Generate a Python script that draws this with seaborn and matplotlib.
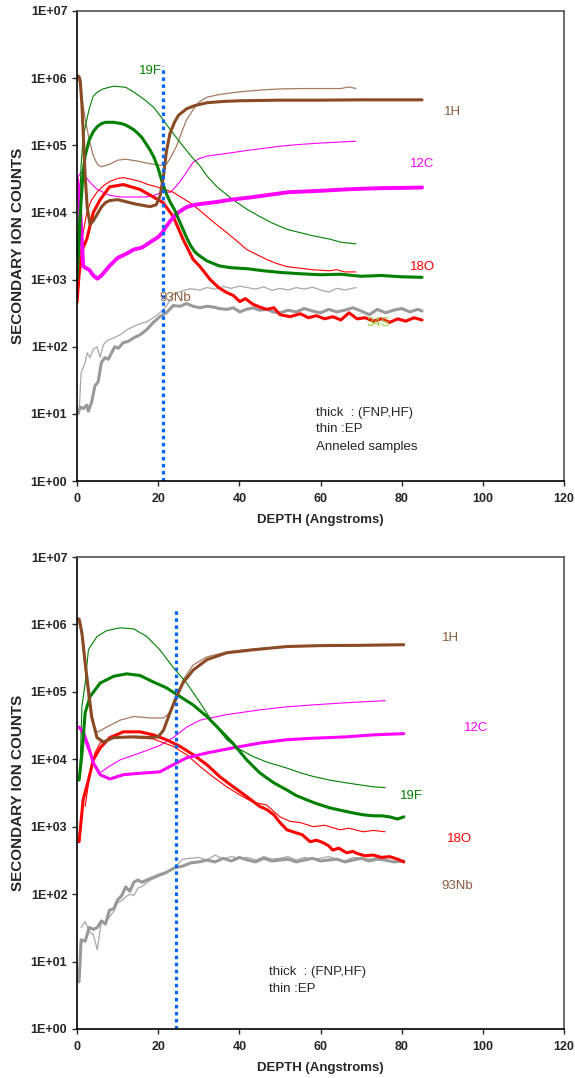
import numpy as np
import pandas as pd
import matplotlib
matplotlib.use("Agg")
import matplotlib.pyplot as plt
from matplotlib.ticker import NullLocator
import seaborn as sns

# ---------------- top panel : annealed samples ----------------
h1_thick_x = [0, 0.5, 0.8, 1.2, 1.6, 2, 2.5, 3.2, 4, 5, 6, 7, 8, 10, 12, 14, 16, 18, 19.5, 20.5, 21.3, 22, 22.9, 24, 25, 27, 29, 32, 36, 40, 50, 60, 70, 85]
h1_thick_y = [1.1e6, 1.05e6, 9e5, 4e5, 1.2e5, 3.5e4, 1.2e4, 6.6e3, 7.5e3, 9.5e3, 1.2e4, 1.4e4, 1.5e4, 1.55e4, 1.45e4, 1.35e4, 1.28e4, 1.22e4, 1.3e4, 1.8e4, 3.5e4, 8e4, 1.5e5, 2.2e5, 2.8e5, 3.5e5, 3.9e5, 4.3e5, 4.5e5, 4.6e5, 4.7e5, 4.7e5, 4.75e5, 4.75e5]
h1_thin_x = [0, 0.5, 1, 2, 3, 4, 5, 6, 8, 10, 12, 15, 18, 20, 21, 22, 23, 24.5, 26, 27, 28.6, 30, 32, 35, 38.5, 42, 46, 50, 55, 60, 65, 67, 68.7]
h1_thin_y = [1.1e6, 9e5, 6e5, 2.5e5, 1.2e5, 7e4, 5.2e4, 4.8e4, 5.2e4, 6e4, 6.2e4, 5.8e4, 5.3e4, 5.1e4, 5.0e4, 5.2e4, 6.5e4, 9.7e4, 1.7e5, 2.4e5, 3.4e5, 4.4e5, 5.2e5, 5.7e5, 6.1e5, 6.4e5, 6.7e5, 6.9e5, 7.0e5, 7.0e5, 7.0e5, 7.4e5, 7.0e5]

f19_thick_x = [0, 0.5, 1, 1.5, 2, 3, 4, 5, 6, 7, 8, 9, 10, 11, 12, 13, 14, 15, 16, 17, 18, 19, 20, 21, 22, 23, 24, 25, 26, 27, 28, 29, 30, 32, 35, 38, 42, 46, 50, 55, 60, 65, 70, 75, 80, 85]
f19_thick_y = [1e3, 4e3, 1.5e4, 4e4, 7e4, 1.2e5, 1.6e5, 1.9e5, 2.1e5, 2.2e5, 2.2e5, 2.2e5, 2.15e5, 2.1e5, 2e5, 1.85e5, 1.7e5, 1.5e5, 1.3e5, 1.05e5, 8.5e4, 6.5e4, 4.5e4, 2.8e4, 1.9e4, 1.4e4, 1.1e4, 8e3, 5.8e3, 4.2e3, 3.2e3, 2.6e3, 2.3e3, 1.9e3, 1.6e3, 1.5e3, 1.45e3, 1.35e3, 1.28e3, 1.22e3, 1.18e3, 1.2e3, 1.12e3, 1.15e3, 1.1e3, 1.08e3]
f19_thin_x = [0, 0.5, 1, 1.5, 2.4, 3, 4, 5, 6.4, 9, 12, 14, 17, 19, 21, 23, 25.4, 28, 30.3, 32, 34.5, 38.4, 42, 45, 48, 51.7, 55, 58, 62.3, 65, 68.7]
f19_thin_y = [2e3, 1e4, 5e4, 1.3e5, 2.4e5, 3.5e5, 5.4e5, 6.2e5, 6.9e5, 7.6e5, 7.3e5, 6.2e5, 4.6e5, 3.6e5, 2.5e5, 1.7e5, 1.1e5, 7e4, 4.9e4, 3.5e4, 2.4e4, 1.55e4, 1.1e4, 8.7e3, 7e3, 5.6e3, 5e3, 4.5e3, 4e3, 3.6e3, 3.4e3]

c12_thick_x = [0, 0.5, 1, 1.5, 2, 3, 4, 5, 6, 7, 8, 10, 12, 14, 16, 18, 20, 21, 22, 23, 24, 25, 26, 27, 29, 31, 34, 38, 43, 48, 52, 56, 60, 66, 70, 75, 80, 85]
c12_thick_y = [3.1e4, 2e4, 6e3, 1.6e3, 1.5e3, 1.4e3, 1.15e3, 1.03e3, 1.15e3, 1.35e3, 1.6e3, 2.1e3, 2.4e3, 2.8e3, 3e3, 3.6e3, 4.3e3, 5e3, 6.2e3, 7.5e3, 8.8e3, 1e4, 1.1e4, 1.2e4, 1.3e4, 1.35e4, 1.42e4, 1.55e4, 1.68e4, 1.85e4, 2e4, 2.05e4, 2.1e4, 2.2e4, 2.25e4, 2.3e4, 2.32e4, 2.35e4]
c12_thin_x = [0, 1, 2, 3, 4, 5, 6.4, 8, 10.6, 13, 15, 17, 19, 21, 23, 24, 25.4, 27, 28.6, 30, 32, 35, 38.4, 42, 46, 50, 55, 60, 65, 68.7]
c12_thin_y = [3.2e4, 4e4, 3.5e4, 2.9e4, 2.5e4, 2.2e4, 2e4, 1.8e4, 1.7e4, 1.7e4, 1.7e4, 1.7e4, 1.8e4, 2e4, 2e4, 2.3e4, 2.9e4, 4e4, 5.6e4, 6.3e4, 6.9e4, 7.3e4, 7.8e4, 8.4e4, 9e4, 9.7e4, 1.03e5, 1.08e5, 1.12e5, 1.15e5]

o18_thick_x = [0, 0.5, 1, 1.5, 2.4, 4, 5.7, 8, 11.4, 15.5, 18.8, 21.2, 23.7, 26.1, 28.6, 30.3, 32.8, 35, 36.9, 38.5, 40.1, 41.5, 43.3, 45, 46.7, 48.5, 50, 52.5, 55, 57, 59, 61, 63, 65, 67, 69, 71, 73, 75, 77, 79, 81, 83, 85]
o18_thick_y = [4.6e2, 1.2e3, 2e3, 3e3, 4e3, 1e4, 1.55e4, 2.4e4, 2.6e4, 2.2e4, 1.7e4, 1.4e4, 8.7e3, 4e3, 2e3, 1.56e3, 1e3, 7.5e2, 6.4e2, 5.8e2, 4.7e2, 5.2e2, 4.3e2, 3.9e2, 3.6e2, 3.8e2, 3e2, 2.8e2, 3.1e2, 2.7e2, 2.9e2, 2.6e2, 2.8e2, 2.5e2, 3.2e2, 2.6e2, 2.7e2, 2.4e2, 2.6e2, 2.3e2, 2.6e2, 2.4e2, 2.7e2, 2.5e2]
o18_thin_x = [0, 0.5, 1, 1.5, 2.4, 3.5, 4.9, 6.5, 8.1, 10, 11.4, 13.5, 15.5, 17.5, 19.7, 21.5, 23.7, 25.5, 27.8, 30, 32, 34.5, 36.9, 39.5, 41.8, 44, 46.7, 49, 51.7, 54, 56, 58, 60, 62, 64, 66, 68.7]
o18_thin_y = [1.5e3, 2e3, 3e3, 5e3, 1e4, 1.5e4, 2e4, 2.5e4, 2.9e4, 3.2e4, 3.3e4, 3.1e4, 2.9e4, 2.6e4, 2.4e4, 2.2e4, 2e4, 1.7e4, 1.4e4, 1.1e4, 8.7e3, 6.5e3, 5e3, 3.7e3, 2.8e3, 2.4e3, 2e3, 1.75e3, 1.56e3, 1.5e3, 1.45e3, 1.4e3, 1.38e3, 1.35e3, 1.4e3, 1.3e3, 1.3e3]

nb93_thick_x = [0.2, 0.8, 1.6, 2.4, 2.8, 3.6, 4.4, 5.2, 6, 6.9, 7.7, 8.5, 9.3, 10.2, 11.4, 12.6, 13.9, 15.5, 17.1, 18.8, 20.4, 22, 23.7, 25.4, 27, 28.6, 30.3, 32, 33.6, 35, 36.9, 38.5, 40.1, 41.7, 43.4, 45, 46.7, 48.3, 50, 52, 54, 56, 58, 60, 62, 64, 66, 68, 70, 72, 74, 76, 78, 80, 82, 84, 85]
nb93_thick_y = [10, 12.6, 12, 13.5, 11, 15, 26, 30, 58, 69, 65, 81, 100, 95, 115, 120, 135, 150, 178, 230, 280, 320, 410, 400, 440, 400, 380, 400, 390, 370, 360, 380, 330, 360, 380, 350, 360, 330, 320, 350, 330, 370, 340, 320, 360, 330, 350, 380, 340, 300, 360, 320, 350, 370, 330, 360, 340]
nb93_thin_x = [0.5, 1, 2, 2.5, 3.2, 4, 4.9, 5.7, 6.5, 7.3, 9, 10.6, 12.2, 13.9, 15.5, 17.1, 18.8, 20.4, 22, 23.7, 25.4, 27.8, 30.3, 32, 34, 36, 38, 40, 42, 44, 46, 48, 50, 52, 54, 56, 58, 60, 62, 64, 66, 68.7]
nb93_thin_y = [10, 41, 58, 81, 69, 91, 100, 70, 107, 122, 135, 150, 178, 200, 220, 234, 270, 320, 400, 600, 660, 730, 700, 760, 720, 790, 740, 800, 760, 720, 780, 690, 740, 700, 760, 720, 770, 700, 650, 740, 700, 760]

# ---------------- bottom panel ----------------
h1b_thick_x = [0, 0.5, 1.2, 2, 2.8, 3.6, 4.9, 6.5, 9, 13.9, 18, 20, 21.3, 22.9, 24.5, 26.1, 28.6, 32, 36.9, 43.3, 51.7, 60, 70, 80.5]
h1b_thick_y = [1.2e6, 1.2e6, 7.5e5, 2.7e5, 1.07e5, 4.3e4, 2.1e4, 1.8e4, 2.1e4, 2.15e4, 2.1e4, 2.15e4, 2.7e4, 4.9e4, 8.5e4, 1.36e5, 2.1e5, 3e5, 3.8e5, 4.2e5, 4.7e5, 4.85e5, 4.9e5, 5e5]
h1b_thin_x = [0, 0.5, 1.2, 2, 2.8, 3.6, 4.9, 7.3, 10.6, 13.9, 18, 21.3, 22.9, 24.5, 26.1, 28.6, 32, 36.9, 43.3, 51.7, 60, 68, 76]
h1b_thin_y = [1.2e6, 1.1e6, 6.5e5, 2.2e5, 8e4, 3.8e4, 2.5e4, 3e4, 3.8e4, 4.3e4, 4.1e4, 4.1e4, 4.9e4, 7.6e4, 1.5e5, 2.5e5, 3.3e5, 3.9e5, 4.3e5, 4.7e5, 4.8e5, 4.9e5, 4.9e5]

f19b_thick_x = [0.5, 1.2, 2, 3.2, 5.7, 9, 12.2, 15.5, 18.8, 22, 25.4, 28.6, 32, 35.3, 38.5, 41.8, 45, 48.4, 51.7, 54, 56.6, 59, 62.3, 65, 68, 70.5, 73, 75, 77, 79, 80.5]
f19b_thick_y = [4.9e3, 1.2e4, 4.9e4, 8.5e4, 1.35e5, 1.7e5, 1.85e5, 1.75e5, 1.4e5, 1.15e5, 8.5e4, 6.4e4, 4.3e4, 2.7e4, 1.7e4, 9.8e3, 6.3e3, 4.5e3, 3.5e3, 2.9e3, 2.5e3, 2.2e3, 1.9e3, 1.75e3, 1.6e3, 1.5e3, 1.45e3, 1.45e3, 1.4e3, 1.3e3, 1.4e3]
f19b_thin_x = [0.7, 1.2, 2, 2.8, 4.9, 7.3, 10.6, 13.9, 17.2, 20.4, 23.7, 27, 30.3, 33.5, 36.9, 40.1, 43.4, 46.7, 51.7, 55, 58, 62.3, 66, 70.5, 73, 75.9]
f19b_thin_y = [6e3, 6e4, 1.35e5, 4.2e5, 6.6e5, 8.1e5, 8.9e5, 8.6e5, 6.6e5, 4.2e5, 2.3e5, 1.35e5, 6.9e4, 3.5e4, 1.95e4, 1.4e4, 1.1e4, 9.1e3, 7.4e3, 6.3e3, 5.6e3, 4.9e3, 4.5e3, 4.1e3, 3.9e3, 3.8e3]

c12b_thick_x = [0.5, 1.6, 2.8, 4, 5.7, 8.1, 11.4, 15.5, 20.4, 23.7, 27, 32, 38.5, 45, 51.7, 58, 66.4, 73, 80.5]
c12b_thick_y = [3e4, 2.5e4, 1.55e4, 8.9e3, 5.9e3, 5.1e3, 5.9e3, 6.2e3, 6.5e3, 8.3e3, 1.05e4, 1.24e4, 1.48e4, 1.74e4, 1.95e4, 2.05e4, 2.15e4, 2.3e4, 2.4e4]
c12b_thin_x = [0.5, 2.4, 4, 5.7, 7.3, 10.6, 15.5, 20.4, 23.7, 27, 30.3, 36.9, 45, 51.7, 58, 66.4, 75.9]
c12b_thin_y = [3e4, 1.55e4, 8.9e3, 6.3e3, 7.4e3, 9.8e3, 1.24e4, 1.6e4, 2.1e4, 3e4, 3.8e4, 4.6e4, 5.4e4, 6e4, 6.4e4, 6.9e4, 7.4e4]

o18b_thick_x = [0.5, 1.5, 2.8, 4, 5.7, 8.1, 11.4, 15.5, 18.8, 22, 25.4, 28.6, 32, 35.2, 38.5, 41.8, 45, 46.7, 48.5, 50, 51.7, 54, 55.5, 57.4, 59, 60.6, 62, 63, 64.5, 66.4, 68, 69, 71, 73, 75, 77, 79, 80.5]
o18b_thick_y = [6e2, 2.5e3, 4.9e3, 9.8e3, 1.48e4, 2.1e4, 2.55e4, 2.55e4, 2.3e4, 1.95e4, 1.55e4, 1.17e4, 8.3e3, 5.5e3, 3.9e3, 2.8e3, 2e3, 1.8e3, 1.5e3, 1.15e3, 9e2, 8.1e2, 7.6e2, 6e2, 6.3e2, 5.8e2, 5.2e2, 4.5e2, 4.8e2, 4.1e2, 4.3e2, 4e2, 3.7e2, 3.8e2, 3.5e2, 3.6e2, 3.3e2, 3e2]
o18b_thin_x = [2, 3.2, 4.4, 5.7, 9, 13.9, 18.8, 23.7, 27, 30.3, 33.5, 36.9, 40.1, 43.4, 46.7, 50, 52.5, 55, 58.2, 61, 64.8, 67, 70.5, 73, 75.9]
o18b_thin_y = [2e3, 6.3e3, 1.24e4, 1.75e4, 2.1e4, 2.1e4, 2e4, 1.55e4, 1.17e4, 7.8e3, 5.5e3, 3.9e3, 2.95e3, 2.3e3, 2.1e3, 1.4e3, 1.2e3, 1.15e3, 1e3, 1.05e3, 9e2, 9.5e2, 8.4e2, 8.8e2, 8.4e2]

nb93b_thick_x = [0.5, 1, 2, 3, 4, 5, 6, 7, 8, 9, 10, 11, 12, 13, 14, 15, 16, 18, 20, 22, 24, 26, 28, 30, 32, 34, 36, 38, 40, 42, 44, 46, 48, 50, 52, 54, 56, 58, 60, 62, 64, 66, 68, 70, 72, 74, 76, 78, 80.5]
nb93b_thick_y = [5, 21, 20, 32, 30, 32, 40, 36, 58, 60, 82, 95, 128, 110, 150, 162, 150, 170, 190, 210, 245, 260, 290, 300, 320, 300, 340, 310, 350, 320, 300, 340, 310, 320, 330, 300, 320, 340, 310, 320, 330, 300, 320, 340, 310, 330, 320, 300, 310]
nb93b_thin_x = [1, 2, 3, 4, 5, 6, 7, 8, 9, 10, 11, 12, 13, 14, 15, 16, 18, 20, 22, 24, 26, 28, 30, 32, 34, 36, 38, 40, 42, 44, 46, 48, 50, 52, 54, 56, 58, 60, 62, 64, 66, 68, 70, 72, 74, 76]
nb93b_thin_y = [32, 39, 28, 25, 15, 41, 38, 46, 55, 74, 80, 91, 100, 95, 123, 130, 160, 182, 205, 245, 330, 340, 350, 320, 380, 330, 360, 340, 350, 320, 360, 330, 340, 360, 320, 350, 330, 340, 360, 330, 310, 350, 340, 330, 350, 320]

# vertical marker depth (Angstroms) per panel
marker_top = 21.2
marker_bottom = 24.4

# colours
BROWN = "#8a4a24"
BROWN_THIN = "#a67b5f"
BROWN_TXT = "#8c5a3c"
GREEN = "#008000"
MAGENTA = "#ff00ff"
RED = "#ff0000"
GRAY = "#999999"
GRAY_THIN = "#a8a8a8"
BLUE = "#0066ff"

sns.set_style("ticks")
plt.rcParams["font.family"] = ["Liberation Sans", "DejaVu Sans"]

fig = plt.figure(figsize=(5.75, 10.78), dpi=100)
ax_top = fig.add_axes([0.134, 0.5538, 0.847, 0.436])
ax_bot = fig.add_axes([0.134, 0.0455, 0.847, 0.4378])

top_series = [
    (h1_thin_x, h1_thin_y, BROWN_THIN, 0.9),
    (c12_thin_x, c12_thin_y, MAGENTA, 0.8),
    (f19_thin_x, f19_thin_y, GREEN, 0.8),
    (o18_thin_x, o18_thin_y, RED, 0.8),
    (nb93_thin_x, nb93_thin_y, GRAY_THIN, 0.9),
    (nb93_thick_x, nb93_thick_y, GRAY, 2.2),
    (o18_thick_x, o18_thick_y, RED, 2.2),
    (c12_thick_x, c12_thick_y, MAGENTA, 2.8),
    (f19_thick_x, f19_thick_y, GREEN, 2.2),
    (h1_thick_x, h1_thick_y, BROWN, 2.2),
]
bottom_series = [
    (h1b_thin_x, h1b_thin_y, BROWN_THIN, 0.9),
    (c12b_thin_x, c12b_thin_y, MAGENTA, 0.8),
    (f19b_thin_x, f19b_thin_y, GREEN, 0.8),
    (o18b_thin_x, o18b_thin_y, RED, 0.8),
    (nb93b_thin_x, nb93b_thin_y, GRAY_THIN, 0.9),
    (nb93b_thick_x, nb93b_thick_y, GRAY, 2.2),
    (o18b_thick_x, o18b_thick_y, RED, 2.2),
    (c12b_thick_x, c12b_thick_y, MAGENTA, 2.2),
    (f19b_thick_x, f19b_thick_y, GREEN, 2.2),
    (h1b_thick_x, h1b_thick_y, BROWN, 2.2),
]

decades = list(range(0, 8))


def style_axes(ax):
    ax.set_yscale("log")
    ax.set_xlim(0, 120)
    ax.set_ylim(1, 1e7)
    ax.set_yticks([10.0 ** e for e in decades])
    ax.set_yticklabels([f"1E+{e:02d}" for e in decades])
    ax.yaxis.set_minor_locator(NullLocator())
    ax.set_xticks(range(0, 121, 20))
    ax.tick_params(axis="both", direction="out", length=3.5, width=1,
                   labelsize=9, top=False, right=False)
    ax.tick_params(axis="y", pad=3.5)
    ax.tick_params(axis="x", pad=5)
    for lbl in ax.get_xticklabels() + ax.get_yticklabels():
        lbl.set_fontweight("bold")
    for s in ["left", "bottom"]:
        ax.spines[s].set_color("black")
        ax.spines[s].set_linewidth(1.2)
    for s in ["top", "right"]:
        ax.spines[s].set_visible(True)
        ax.spines[s].set_color("#555555")
        ax.spines[s].set_linewidth(1.2)
    ax.set_xlabel("DEPTH (Angstroms)", fontsize=9.5, fontweight="bold")
    ax.set_ylabel("SECONDARY ION COUNTS", fontsize=11, fontweight="bold")
    ax.xaxis.set_label_coords(0.5, -0.071)
    ax.yaxis.set_label_coords(-0.106, 0.5)


def draw(ax, series, marker, marker_top_val):
    for xs, ys, col, lw in series:
        df = pd.DataFrame({"depth": xs, "counts": ys})
        sns.lineplot(data=df, x="depth", y="counts", ax=ax, color=col,
                     linewidth=lw, estimator=None, sort=False,
                     solid_joinstyle="round")
    ax.plot([marker, marker], [1, marker_top_val], color=BLUE, lw=2.3,
            linestyle=(0, (1.1, 1.1)), solid_capstyle="butt")


draw(ax_top, top_series, marker_top, 1.5e6)
draw(ax_bot, bottom_series, marker_bottom, 1.7e6)
style_axes(ax_top)
style_axes(ax_bot)

# species labels, top panel
lab = dict(fontsize=9.5, ha="center", va="center")
ax_top.text(18.0, 10 ** 6.10, "19F", color=GREEN, **lab)
ax_top.text(92.4, 10 ** 5.49, "1H", color=BROWN_TXT, **lab)
ax_top.text(85.0, 10 ** 4.72, "12C", color=MAGENTA, **lab)
ax_top.text(85.0, 10 ** 3.18, "18O", color=RED, **lab)
ax_top.text(24.1, 10 ** 2.73, "93Nb", color=BROWN_TXT, **lab)
ax_top.text(74.1, 10 ** 2.36, "34S", color="#99cc33", **lab)
ax_top.text(58.9, 10 ** 1.01, "thick  : (FNP,HF)", fontsize=9.5, va="center")
ax_top.text(58.9, 10 ** 0.77, "thin :EP", fontsize=9.5, va="center")
ax_top.text(58.9, 10 ** 0.50, "Anneled samples", fontsize=9.5, va="center")

# species labels, bottom panel
ax_bot.text(92.1, 10 ** 5.80, "1H", color=BROWN_TXT, **lab)
ax_bot.text(98.3, 10 ** 4.47, "12C", color=MAGENTA, **lab)
ax_bot.text(82.3, 10 ** 3.46, "19F", color=GREEN, **lab)
ax_bot.text(94.3, 10 ** 2.82, "18O", color=RED, **lab)
ax_bot.text(93.6, 10 ** 2.12, "93Nb", color=BROWN_TXT, **lab)
ax_bot.text(47.3, 10 ** 0.85, "thick  : (FNP,HF)", fontsize=9.5, va="center")
ax_bot.text(47.3, 10 ** 0.59, "thin :EP", fontsize=9.5, va="center")

fig.savefig("out.png", dpi=100, facecolor="white")
